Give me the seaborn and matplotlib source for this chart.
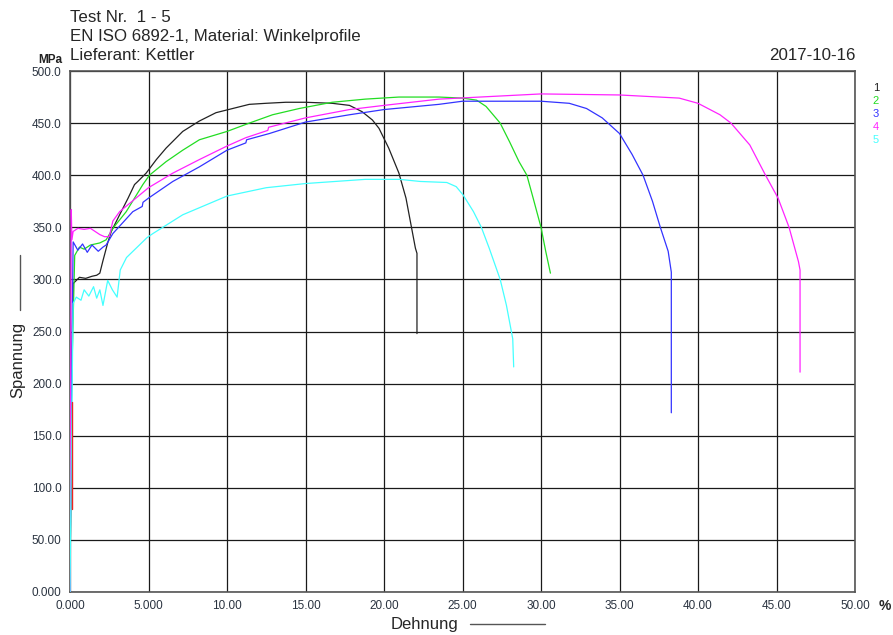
import matplotlib
matplotlib.use("Agg")
import matplotlib.pyplot as plt
import seaborn as sns
import pandas as pd

# ---------------- data (strain %, stress MPa) ----------------
x1 = [0, 0.1, 0.2, 0.6, 1.0, 1.4, 1.7, 1.9, 2.1, 2.4, 2.63, 3.16, 3.7, 4.11, 4.32, 4.85, 5.5, 6.12,
      7.18, 8.24, 9.3, 10.36, 11.42, 12.48, 13.75, 15.0, 16.7, 17.8, 18.6, 19.26, 19.68, 20.3, 20.95,
      21.4, 21.8, 22.0, 22.1, 22.1]
y1 = [0, 200, 296, 302, 301, 303, 304, 306, 318, 335, 346, 362, 378, 391, 394, 402, 415, 426,
      442, 452, 460, 464, 468, 469, 470, 470, 469, 467, 461, 453, 445, 426, 402,
      378, 346, 330, 325, 248]

x2 = [0, 0.1, 0.3, 0.6, 0.9, 1.3, 1.9, 2.3, 2.73, 3.58, 4.64, 5.06, 6.12, 7.18, 8.24, 10.0, 11.42,
      12.9, 14.6, 16.7, 18.8, 20.95, 23.5, 25.0, 25.9, 26.5, 27.4, 28.0, 28.6, 29.1, 29.5, 30.0,
      30.3, 30.6]
y2 = [0, 200, 323, 331, 329, 333, 335, 338, 349, 365, 391, 400, 413, 424, 434, 442, 450,
      458, 464, 470, 473, 475, 475, 474, 472, 466, 450, 432, 413, 400, 378, 350,
      327, 306]

x3 = [0, 0.1, 0.2, 0.5, 0.8, 1.1, 1.4, 1.8, 2.1, 2.3, 2.73, 4.0, 4.6, 4.65, 5.0, 6.55, 8.24, 10.0,
      11.2, 11.25, 12.7, 15.0, 17.8, 20.0, 23.5, 25.0, 30.0, 31.8, 32.9, 33.9, 35.0, 35.8, 36.5,
      37.1, 37.6, 38.1, 38.3, 38.3]
y3 = [0, 200, 336, 328, 334, 326, 333, 327, 331, 333, 344, 365, 370, 374, 378, 394, 408, 424,
      431, 434, 440, 451, 458, 463, 468, 471, 471, 469, 464, 455, 440, 420, 400,
      375, 350, 327, 307, 172]

x4 = [0, 0.08, 0.12, 0.2, 0.5, 0.9, 1.3, 1.6, 1.9, 2.2, 2.5, 2.73, 3.16, 5.0, 6.55, 8.24, 10.0,
      11.2, 12.6, 12.65, 15.0, 17.8, 20.0, 23.5, 30.0, 35.0, 38.8, 40.0, 41.4, 42.1, 43.3, 44.3,
      45.1, 45.8, 46.4, 46.5, 46.5]
y4 = [0, 367, 338, 346, 349, 348, 349, 346, 343, 341, 341, 356, 365, 388, 402, 415, 428,
      436, 443, 446, 455, 463, 467, 473, 478, 477, 474, 469, 458, 450, 429, 400,
      378, 350, 317, 309, 211]

x5 = [0, 0.1, 0.2, 0.4, 0.7, 0.9, 1.2, 1.5, 1.7, 1.9, 2.1, 2.4, 2.7, 3.0, 3.2, 3.6, 4.9, 5.28,
      7.18, 10.0, 12.5, 15.0, 18.8, 21.0, 22.3, 24.0, 24.6, 25.04, 25.7, 26.2, 26.7, 27.4, 27.8,
      28.2, 28.26]
y5 = [0, 150, 277, 283, 280, 290, 284, 293, 282, 290, 275, 299, 290, 283, 309, 321, 340, 344,
      362, 380, 388, 392, 396, 396, 394, 393, 389, 381, 365, 350, 330, 300, 275,
      243, 216]

x_red = [0.1, 0.1]
y_red = [80, 182]

series_names = ["1", "2", "3", "4", "5"]
colors = ["#222222", "#22dd22", "#3333ff", "#ff22ff", "#44ffff"]

x_ticks = [0, 5, 10, 15, 20, 25, 30, 35, 40, 45, 50]
x_labels = ["0.000", "5.000", "10.00", "15.00", "20.00", "25.00", "30.00", "35.00", "40.00", "45.00", "50.00"]
y_ticks = [0, 50, 100, 150, 200, 250, 300, 350, 400, 450, 500]
y_labels = ["0.000", "50.00", "100.0", "150.0", "200.0", "250.0", "300.0", "350.0", "400.0", "450.0", "500.0"]

# ---------------- figure ----------------
sns.set_style("white")
plt.rcParams["font.family"] = ["Liberation Sans", "DejaVu Sans"]

fig = plt.figure(figsize=(8.93, 6.35), dpi=100)
ax = fig.add_axes([70 / 893, 43 / 635, 785 / 893, 521 / 635])

frames = []
for n, xs, ys in zip(series_names, [x1, x2, x3, x4, x5], [y1, y2, y3, y4, y5]):
    frames.append(pd.DataFrame({"Dehnung": xs, "Spannung": ys, "Test": n}))
df = pd.concat(frames, ignore_index=True)

sns.lineplot(data=df, x="Dehnung", y="Spannung", hue="Test", palette=dict(zip(series_names, colors)),
             sort=False, estimator=None, units="Test", linewidth=0.9, legend=False, ax=ax, zorder=3)
sns.lineplot(x=x_red, y=y_red, color="#ee2222", linewidth=1.0, sort=False, estimator=None, ax=ax, zorder=4)

ax.set_xlim(0, 50)
ax.set_ylim(0, 500)
ax.set_xticks(x_ticks)
ax.set_xticklabels(x_labels)
ax.set_yticks(y_ticks)
ax.set_yticklabels(y_labels)
ax.tick_params(axis="both", length=0, labelsize=8.5, labelcolor="#2a3340", pad=6)
ax.grid(True, color="#1a1a1a", linewidth=0.9)
ax.set_axisbelow(True)
for s in ax.spines.values():
    s.set_color("#555555")
    s.set_linewidth(1.2)
ax.set_xlabel("")
ax.set_ylabel("")

# titles
fig.text(70 / 893, 1 - 17 / 635, "Test Nr.  1 - 5", fontsize=12.2, va="center", ha="left")
fig.text(70 / 893, 1 - 36 / 635, "EN ISO 6892-1, Material: Winkelprofile", fontsize=12.2, va="center", ha="left")
fig.text(70 / 893, 1 - 55 / 635, "Lieferant: Kettler", fontsize=12.2, va="center", ha="left")
fig.text(855 / 893, 1 - 55 / 635, "2017-10-16", fontsize=12.2, va="center", ha="right")
fig.text(62 / 893, 1 - 60 / 635, "MPa", fontsize=8.5, fontweight="bold", va="center", ha="right", color="#222222")
fig.text(879 / 893, 1 - 606 / 635, "%", fontsize=10, fontweight="bold", va="center", ha="left")

# axis labels
fig.text(424 / 893, 1 - 625 / 635, "Dehnung", fontsize=12, va="center", ha="center")
fig.add_artist(plt.Line2D([470 / 893, 545 / 893], [1 - 624 / 635, 1 - 624 / 635], color="#555555", linewidth=1))
fig.text(18 / 893, 1 - 360 / 635, "Spannung", fontsize=12, va="center", ha="center", rotation=90)
fig.add_artist(plt.Line2D([20 / 893, 20 / 893], [1 - 255 / 635, 1 - 310 / 635], color="#555555", linewidth=1))

# legend numbers
for i, (n, c) in enumerate(zip(series_names, colors)):
    fig.text(876 / 893, 1 - (88 + 13 * i) / 635, n, fontsize=8, color=c, va="center", ha="center")

fig.savefig("out.png", dpi=100)
